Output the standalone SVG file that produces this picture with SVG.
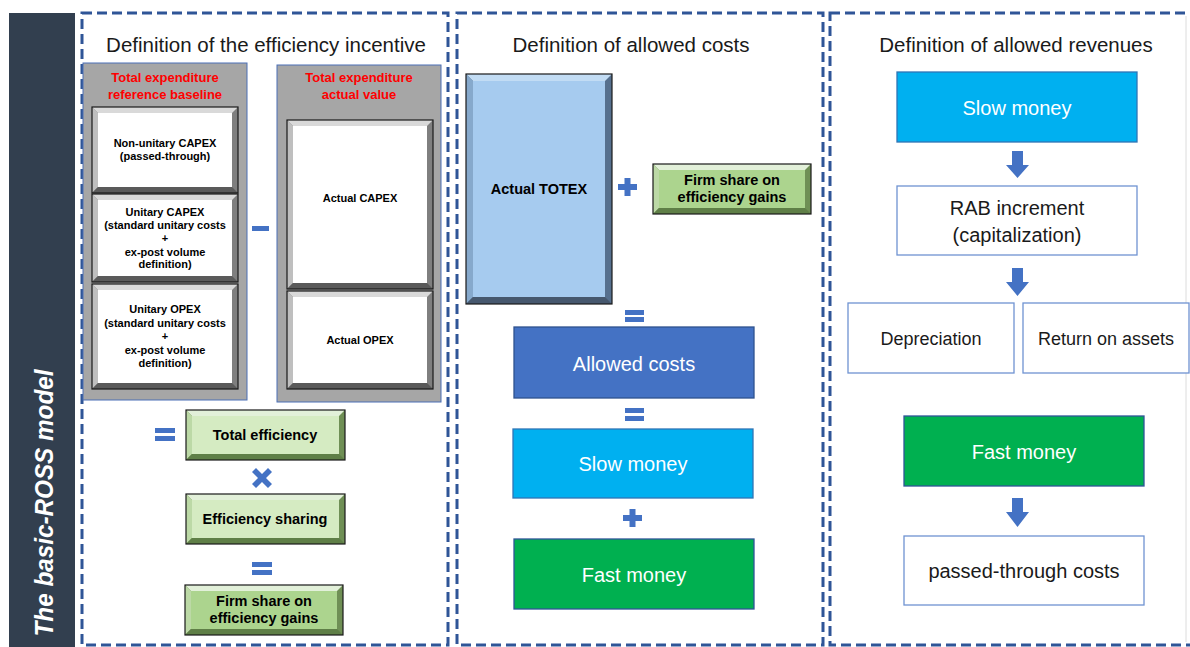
<svg xmlns="http://www.w3.org/2000/svg" width="1190" height="647" viewBox="0 0 1190 647">
<style>
.panel{fill:none;stroke:#2f5597;stroke-width:3;stroke-dasharray:10 5}
.ptitle{font-family:"Liberation Sans",Arial,sans-serif;font-size:20.5px;fill:#1a1a1a;text-anchor:middle}
.red{font-family:"Liberation Sans",Arial,sans-serif;font-size:13px;font-weight:bold;fill:#ff0000;text-anchor:middle}
.sm{font-family:"Liberation Sans",Arial,sans-serif;font-size:11px;font-weight:bold;fill:#000;text-anchor:middle}
.md{font-family:"Liberation Sans",Arial,sans-serif;font-size:14.5px;font-weight:bold;fill:#000;text-anchor:middle}
.wt{font-family:"Liberation Sans",Arial,sans-serif;font-size:20px;fill:#fff;text-anchor:middle}
.bk{font-family:"Liberation Sans",Arial,sans-serif;font-size:20px;fill:#1a1a1a;text-anchor:middle}
.bk18{font-family:"Liberation Sans",Arial,sans-serif;font-size:18px;fill:#1a1a1a;text-anchor:middle}
.graybg{fill:#a6a6a6;stroke:#4a6fb5;stroke-width:1}
.gR{fill:#7f7f7f}.gT{fill:#d9d9d9}.gL{fill:#bfbfbf}.gB{fill:#5a5a5a}.gF{fill:#ffffff}
.vR{fill:#6f8f55}.vT{fill:#e2f0d9}.vL{fill:#bcd9a6}.vB{fill:#5f7f47}.vF{fill:#d5ebc2}.vF2{fill:#acd48e}
.bR{fill:#56708e}.bT{fill:#c2dcf4}.bL{fill:#86a9cc}.bB{fill:#46586e}.bF{fill:#a6cbef}
.outline{fill:none;stroke:#1a1a1a;stroke-width:1.2}
.op{fill:#4472c4}
.flat{stroke-width:1.3}
.white{fill:#fff;stroke:#6f93d2;stroke-width:1.3}
.arrow{fill:#4472c4}
</style>

<!-- side bar -->
<g id="sidebar">
<rect x="9" y="13" width="66" height="634" fill="#323f4f"/>
<text transform="translate(53,503) rotate(-90)" x="0" y="0" text-anchor="middle" font-family="Liberation Sans,Arial,sans-serif" font-size="26" font-weight="bold" font-style="italic" fill="#fff" textLength="267" lengthAdjust="spacingAndGlyphs">The basic-ROSS model</text>
</g>

<!-- panels -->
<g id="panel-incentive">
<rect class="panel" x="82" y="13" width="366" height="632"/>
<text class="ptitle" x="266" y="52">Definition of the efficiency incentive</text>
</g>
<g id="panel-costs">
<rect class="panel" x="457" y="13" width="366" height="632"/>
<text class="ptitle" x="631" y="52">Definition of allowed costs</text>
</g>
<g id="panel-revenues">
<rect class="panel" x="830" y="13" width="362" height="632"/>
<line x1="1186" y1="16" x2="1186" y2="642" stroke="#dcdcdc" stroke-width="1"/>
<text class="ptitle" x="1016" y="52">Definition of allowed revenues</text>
</g>

<!-- gray group boxes -->
<g id="baseline-group">
<rect class="graybg" x="83" y="63" width="164" height="337"/>
<text class="red" x="165" y="82">Total expenditure</text>
<text class="red" x="165" y="99">reference baseline</text>
</g>
<g id="actual-group">
<rect class="graybg" x="277" y="65" width="164" height="337"/>
<text class="red" x="359" y="82">Total expenditure</text>
<text class="red" x="359" y="99">actual value</text>
</g>

<g id="nonunitary-capex">
<rect class="gR" x="92" y="107" width="146" height="86"/>
<polygon class="gT" points="92,107 238,107 232,113 98,113"/>
<polygon class="gL" points="92,107 98,113 98,187 92,193"/>
<polygon class="gB" points="92,193 238,193 232,187 98,187"/>
<rect class="gF" x="98" y="113" width="134" height="74"/>
<rect class="outline" x="92" y="107" width="146" height="86"/>
<text class="sm" x="165" y="147">Non-unitary CAPEX</text>
<text class="sm" x="165" y="160">(passed-through)</text>
</g>

<g id="unitary-capex">
<rect class="gR" x="92" y="194" width="146" height="88"/>
<polygon class="gT" points="92,194 238,194 232,200 98,200"/>
<polygon class="gL" points="92,194 98,200 98,276 92,282"/>
<polygon class="gB" points="92,282 238,282 232,276 98,276"/>
<rect class="gF" x="98" y="200" width="134" height="76"/>
<rect class="outline" x="92" y="194" width="146" height="88"/>
<text class="sm" x="165" y="216">Unitary CAPEX</text>
<text class="sm" x="165" y="229">(standard unitary costs</text>
<text class="sm" x="165" y="242">+</text>
<text class="sm" x="165" y="256">ex-post volume</text>
<text class="sm" x="165" y="268">definition)</text>
</g>

<g id="unitary-opex">
<rect class="gR" x="92" y="284" width="146" height="105"/>
<polygon class="gT" points="92,284 238,284 232,290 98,290"/>
<polygon class="gL" points="92,284 98,290 98,383 92,389"/>
<polygon class="gB" points="92,389 238,389 232,383 98,383"/>
<rect class="gF" x="98" y="290" width="134" height="93"/>
<rect class="outline" x="92" y="284" width="146" height="105"/>
<text class="sm" x="165" y="313">Unitary OPEX</text>
<text class="sm" x="165" y="327">(standard unitary costs</text>
<text class="sm" x="165" y="340">+</text>
<text class="sm" x="165" y="354">ex-post volume</text>
<text class="sm" x="165" y="367">definition)</text>
</g>

<g id="actual-capex">
<rect class="gR" x="287" y="120" width="146" height="169"/>
<polygon class="gT" points="287,120 433,120 427,126 293,126"/>
<polygon class="gL" points="287,120 293,126 293,283 287,289"/>
<polygon class="gB" points="287,289 433,289 427,283 293,283"/>
<rect class="gF" x="293" y="126" width="134" height="157"/>
<rect class="outline" x="287" y="120" width="146" height="169"/>
<text class="sm" x="360" y="202">Actual CAPEX</text>
</g>

<g id="actual-opex">
<rect class="gR" x="287" y="291" width="146" height="98"/>
<polygon class="gT" points="287,291 433,291 427,297 293,297"/>
<polygon class="gL" points="287,291 293,297 293,383 287,389"/>
<polygon class="gB" points="287,389 433,389 427,383 293,383"/>
<rect class="gF" x="293" y="297" width="134" height="86"/>
<rect class="outline" x="287" y="291" width="146" height="98"/>
<text class="sm" x="360" y="344">Actual OPEX</text>
</g>

<g id="total-efficiency">
<rect class="vR" x="186" y="410" width="159" height="50"/>
<polygon class="vT" points="186,410 345,410 339,416 192,416"/>
<polygon class="vL" points="186,410 192,416 192,454 186,460"/>
<polygon class="vB" points="186,460 345,460 339,454 192,454"/>
<rect class="vF" x="192" y="416" width="147" height="38"/>
<rect class="outline" x="186" y="410" width="159" height="50"/>
<text class="md" x="265" y="440">Total efficiency</text>
</g>

<g id="efficiency-sharing">
<rect class="vR" x="186" y="494" width="159" height="50"/>
<polygon class="vT" points="186,494 345,494 339,500 192,500"/>
<polygon class="vL" points="186,494 192,500 192,538 186,544"/>
<polygon class="vB" points="186,544 345,544 339,538 192,538"/>
<rect class="vF" x="192" y="500" width="147" height="38"/>
<rect class="outline" x="186" y="494" width="159" height="50"/>
<text class="md" x="265" y="524">Efficiency sharing</text>
</g>

<g id="firm-share-1">
<rect class="vR" x="185" y="585" width="158" height="50"/>
<polygon class="vT" points="185,585 343,585 337,591 191,591"/>
<polygon class="vL" points="185,585 191,591 191,629 185,635"/>
<polygon class="vB" points="185,635 343,635 337,629 191,629"/>
<rect class="vF2" x="191" y="591" width="146" height="38"/>
<rect class="outline" x="185" y="585" width="158" height="50"/>
<text class="md" x="264" y="606">Firm share on</text>
<text class="md" x="264" y="623">efficiency gains</text>
</g>

<g id="actual-totex">
<rect class="bR" x="466" y="74" width="146" height="230"/>
<polygon class="bT" points="466,74 612,74 605,81 473,81"/>
<polygon class="bL" points="466,74 473,81 473,297 466,304"/>
<polygon class="bB" points="466,304 612,304 605,297 473,297"/>
<rect class="bF" x="473" y="81" width="132" height="216"/>
<rect class="outline" x="466" y="74" width="146" height="230"/>
<text class="md" x="539" y="194">Actual TOTEX</text>
</g>

<g id="firm-share-2">
<rect class="vR" x="653" y="164" width="158" height="50"/>
<polygon class="vT" points="653,164 811,164 805,170 659,170"/>
<polygon class="vL" points="653,164 659,170 659,208 653,214"/>
<polygon class="vB" points="653,214 811,214 805,208 659,208"/>
<rect class="vF2" x="659" y="170" width="146" height="38"/>
<rect class="outline" x="653" y="164" width="158" height="50"/>
<text class="md" x="732" y="185">Firm share on</text>
<text class="md" x="732" y="202">efficiency gains</text>
</g>

<g id="allowed-costs">
<rect x="514" y="327" width="240" height="71" fill="#4472c4" stroke="#2f528f" class="flat"/>
<text class="wt" x="634" y="371">Allowed costs</text>
</g>
<g id="slow-money-costs">
<rect x="513" y="429" width="240" height="69" fill="#00b0f0" stroke="#2e75b6" class="flat"/>
<text class="wt" x="633" y="471">Slow money</text>
</g>
<g id="fast-money-costs">
<rect x="514" y="539" width="240" height="70" fill="#00b050" stroke="#2f5597" class="flat"/>
<text class="wt" x="634" y="582">Fast money</text>
</g>

<g id="slow-money-rev">
<rect x="897" y="72" width="240" height="70" fill="#00b0f0" stroke="#2e75b6" class="flat"/>
<text class="wt" x="1017" y="115">Slow money</text>
</g>
<g id="rab-increment">
<rect class="white" x="897" y="186" width="240" height="69"/>
<text class="bk" x="1017" y="215">RAB increment</text>
<text class="bk" x="1017" y="242">(capitalization)</text>
</g>
<g id="depreciation">
<rect class="white" x="848" y="303" width="166" height="70"/>
<text class="bk18" x="931" y="345">Depreciation</text>
</g>
<g id="return-on-assets">
<rect class="white" x="1023" y="303" width="166" height="70"/>
<text class="bk18" x="1106" y="345">Return on assets</text>
</g>
<g id="fast-money-rev">
<rect x="904" y="416" width="240" height="70" fill="#00b050" stroke="#2f5597" class="flat"/>
<text class="wt" x="1024" y="459">Fast money</text>
</g>
<g id="passed-through">
<rect class="white" x="904" y="536" width="240" height="69"/>
<text class="bk" x="1024" y="578">passed-through costs</text>
</g>

<!-- operators -->
<g id="operators">
<rect class="op" x="252" y="226" width="17" height="5"/>
<rect class="op" x="155" y="428" width="20" height="5"/>
<rect class="op" x="155" y="436" width="20" height="5"/>
<path class="op" transform="translate(262,478)" d="M-10,-6 L-6,-10 L0,-4 L6,-10 L10,-6 L4,0 L10,6 L6,10 L0,4 L-6,10 L-10,6 L-4,0 Z"/>
<rect class="op" x="252" y="562" width="20" height="5"/>
<rect class="op" x="252" y="570" width="20" height="5"/>
<rect class="op" x="618" y="184" width="19" height="6"/>
<rect class="op" x="624.5" y="178" width="6" height="18"/>
<rect class="op" x="625" y="310" width="19" height="5"/>
<rect class="op" x="625" y="317" width="19" height="5"/>
<rect class="op" x="625" y="408" width="19" height="5"/>
<rect class="op" x="625" y="416" width="19" height="5"/>
<rect class="op" x="623" y="515" width="19" height="6"/>
<rect class="op" x="629.5" y="509" width="6" height="18"/>
</g>

<!-- connectors -->
<g id="connectors">
<polygon class="arrow" points="1012,151 1023,151 1023,165 1029,165 1017.5,178 1006,165 1012,165"/>
<polygon class="arrow" points="1012,268 1023,268 1023,282 1029,282 1017.5,296 1006,282 1012,282"/>
<polygon class="arrow" points="1012,498 1023,498 1023,512 1029,512 1017.5,527 1006,512 1012,512"/>
</g>
</svg>
